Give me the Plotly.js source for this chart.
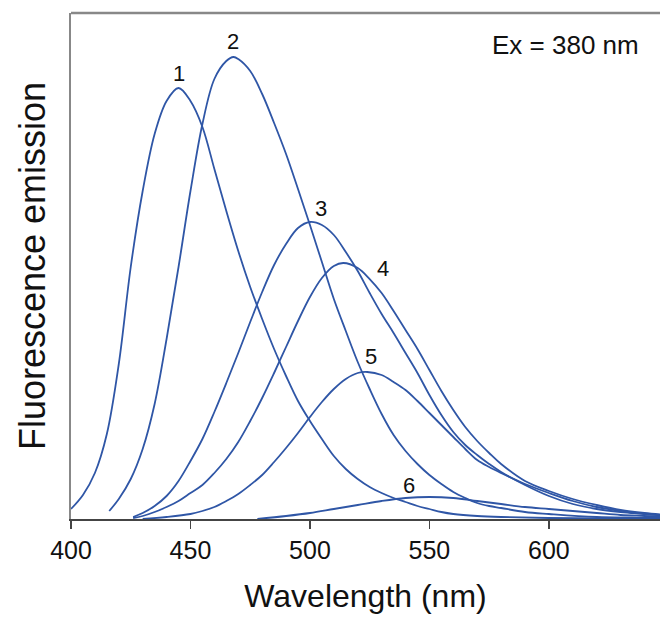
<!DOCTYPE html>
<html>
<head>
<meta charset="utf-8">
<script src="https://cdn.plot.ly/plotly-3.0.1.min.js"></script>
<style>html,body{margin:0;padding:0;background:#fff;}#chart{width:660px;height:617px;}</style>
</head>
<body>
<div id="chart"></div>
<script>
// Wavelength grids (nm) and emission intensities (arbitrary units)
const wl1 = [400,405,410,415,420,425,430,435,440,445,450,455,460,465,470,475,480,485,490,495,500,505,510,515,520,525,530,535,540,545,550,555,560,570,580,600,650];
const em1 = [10,24,46,85,155,252,328,385,418,431,418,392,350,308,268,232,200,170,143,118,98,80,63,50,40,32,26,21,17,13,10,7,5,3,2,1,0];

const wl2 = [416,420,425,430,435,440,445,450,455,460,465,468,470,475,480,485,490,495,500,505,510,515,520,525,530,535,540,545,550,555,560,565,570,575,580,590,600,620,650];
const em2 = [8,20,40,70,115,180,252,328,395,440,458,462,460,448,425,396,365,330,294,257,220,188,157,130,105,84,68,55,44,35,27,21,16,13,11,7,5,2,1];

const wl3 = [426,430,435,440,445,450,455,460,465,470,475,480,485,490,495,500,505,510,515,520,525,530,535,540,545,550,555,560,565,570,575,580,590,600,610,620,630,640,650];
const em3 = [2,6,13,23,38,58,80,107,136,166,197,227,254,275,291,297,294,284,267,248,226,205,186,166,146,124,104,87,74,64,55,47,34,23,15,10,7,5,3];

const wl4 = [426,430,435,440,445,450,455,460,465,470,475,480,485,490,495,500,505,510,514,520,525,530,535,540,545,550,555,560,565,570,575,580,590,600,610,620,630,640,650];
const em4 = [1,3,7,12,18,26,34,46,60,77,98,121,146,172,198,222,241,253,256,251,240,226,208,189,170,149,128,109,92,78,66,55,38,28,20,14,9,6,4];

const wl5 = [430,440,450,455,460,465,470,475,480,485,490,495,500,505,510,515,520,524,530,535,540,545,550,555,560,565,570,575,580,590,600,610,620,630,640,650];
const em5 = [0,2,5,8,12,18,25,34,44,57,71,86,102,117,130,140,146,147,144,137,129,118,106,94,82,70,59,52,46,35,26,18,12,8,5,4];

const wl6 = [478,490,500,510,520,530,540,550,560,570,580,590,600,610,620,630,640,650];
const em6 = [0,3,6,10,14,18,21,22,21,18,15,12,10,8,6,4,3,2];

const seriesNames = ["1","2","3","4","5","6"];
const xTicks = [400,450,500,550,600];
const xTitle = "Wavelength (nm)";
const yTitle = "Fluorescence emission";
const noteText = "Ex = 380 nm";

const wls = [wl1,wl2,wl3,wl4,wl5,wl6];
const ems = [em1,em2,em3,em4,em5,em6];

// label offsets (pixels) relative to each curve's peak
const labelShift = [[0,15],[0,16],[11,14],[40,-5],[4,16],[-20,12]];

const lineColor = "#2f56a6";
const font = "Liberation Sans, Arial, Helvetica, sans-serif";

const traces = wls.map((w,i) => ({
  type: "scatter", mode: "lines", x: w, y: ems[i], name: seriesNames[i],
  line: {color: lineColor, width: 1.8, shape: "spline", smoothing: 1},
  hoverinfo: "x+y"
}));

const annotations = wls.map((w,i) => {
  const e = ems[i];
  let k = 0;
  for (let j = 1; j < e.length; j++) if (e[j] > e[k]) k = j;
  return {x: w[k], y: e[k], xref: "x", yref: "y", text: seriesNames[i], showarrow: false,
    xshift: labelShift[i][0], yshift: labelShift[i][1], xanchor: "center", yanchor: "middle",
    font: {family: font, size: 22, color: "#111"}};
});
annotations.push({x: 0.84, y: 0.937, xref: "paper", yref: "paper", text: noteText, showarrow: false,
  xanchor: "center", yanchor: "middle",
  font: {family: font, size: 26, color: "#111"}});

const layout = {
  width: 660, height: 617,
  margin: {l: 71, r: 0, t: 13, b: 98},
  paper_bgcolor: "#fff", plot_bgcolor: "#fff",
  showlegend: false,
  font: {family: font, color: "#111"},
  xaxis: {
    range: [400, 646.5], tickvals: xTicks, ticktext: xTicks.map(String),
    ticks: "outside", ticklen: 8, tickwidth: 1.5, tickcolor: "#444",
    showline: true, linecolor: "#444", linewidth: 2,
    showgrid: false, zeroline: false,
    tickfont: {family: font, size: 25, color: "#111"},
    title: {text: xTitle, font: {family: font, size: 32, color: "#111"}, standoff: 22}
  },
  yaxis: {
    range: [0, 506], showticklabels: false, ticks: "",
    showline: true, linecolor: "#888", linewidth: 2,
    showgrid: false, zeroline: false,
    title: {text: yTitle, font: {family: font, size: 36, color: "#111"}, standoff: 12}
  },
  shapes: [{type: "line", xref: "paper", yref: "paper", x0: 0, x1: 1, y0: 1, y1: 1,
    line: {color: "#888", width: 2.5}}],
  annotations: annotations
};

Plotly.newPlot("chart", traces, layout, {displayModeBar: false, staticPlot: true});
</script>
</body>
</html>
